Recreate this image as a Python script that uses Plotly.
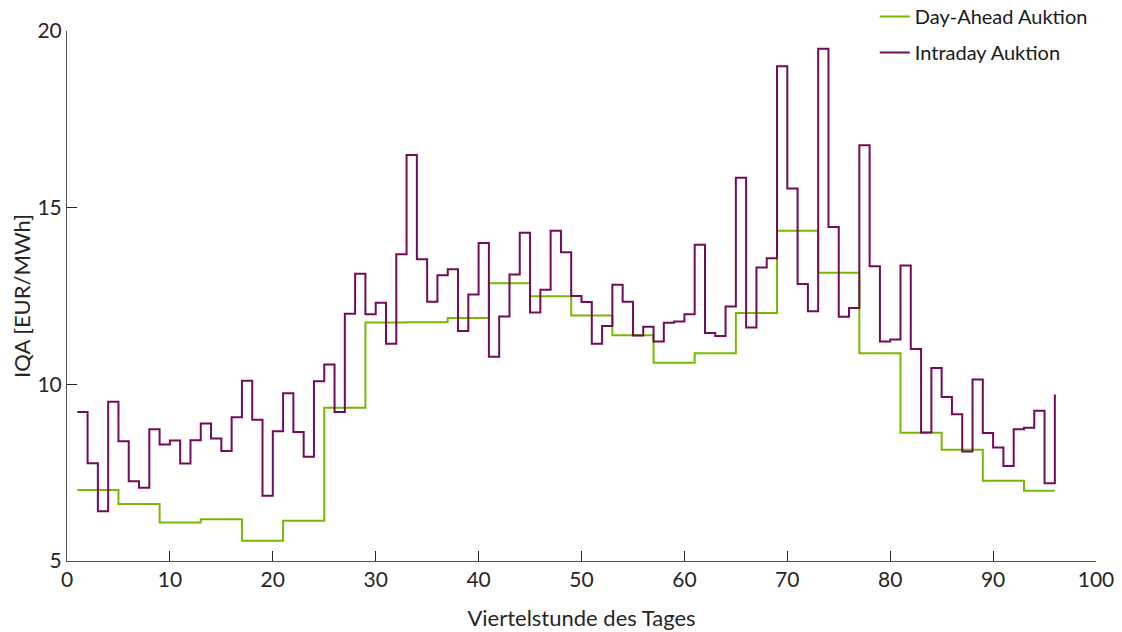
import plotly.graph_objects as go

quarters = list(range(1, 97))

intraday = [
    9.22, 7.77, 6.41, 9.51, 8.39, 7.26, 7.07, 8.73, 8.30, 8.41,
    7.76, 8.42, 8.89, 8.47, 8.11, 9.07, 10.10, 9.00, 6.85, 8.67,
    9.75, 8.65, 7.95, 10.09, 10.56, 9.22, 12.00, 13.13, 11.98, 12.31,
    11.15, 13.68, 16.49, 13.54, 12.34, 13.09, 13.26, 11.51, 12.54, 14.00,
    10.78, 11.92, 13.11, 14.29, 12.03, 12.68, 14.35, 13.74, 12.50, 12.33,
    11.15, 11.65, 12.82, 12.34, 11.38, 11.63, 11.21, 11.74, 11.78, 11.98,
    13.95, 11.45, 11.37, 12.20, 15.85, 11.61, 13.31, 13.57, 19.00, 15.54,
    12.84, 12.07, 19.50, 14.45, 11.91, 12.16, 16.77, 13.34, 11.21, 11.27,
    13.36, 11.00, 8.64, 10.46, 9.64, 9.15, 8.10, 10.14, 8.62, 8.21,
    7.69, 8.73, 8.77, 9.25, 7.20, 9.71,
]

day_ahead_hourly = [
    7.01, 6.61, 6.09, 6.18, 5.57, 6.14, 9.34, 11.75, 11.76, 11.88,
    12.86, 12.49, 11.95, 11.39, 10.61, 10.88, 12.02, 14.35, 13.16, 10.88,
    8.63, 8.15, 7.27, 6.99,
]
day_ahead = [v for v in day_ahead_hourly for _ in range(4)]

x_ticks = [0, 10, 20, 30, 40, 50, 60, 70, 80, 90, 100]
y_ticks = [5, 10, 15, 20]

GREEN = "#77B900"
PURPLE = "#720B58"
FONT = "Lato"

fig = go.Figure()
fig.add_trace(go.Scatter(
    x=quarters, y=day_ahead, mode="lines", line_shape="hv",
    line=dict(color=GREEN, width=2), name="Day-Ahead Auktion", legendgroup="a",
))
fig.add_trace(go.Scatter(
    x=quarters, y=intraday, mode="lines", line_shape="hv",
    line=dict(color=PURPLE, width=2), name="Intraday Auktion", legendgroup="b",
))

fig.update_layout(
    width=1122, height=632,
    margin=dict(l=67, r=26, t=31, b=71, autoexpand=False),
    plot_bgcolor="white", paper_bgcolor="white",
    font=dict(family=FONT, size=21, color="#262626"),
    showlegend=True,
    legend=dict(
        x=0.785, xanchor="left", y=1.064, yanchor="top",
        bgcolor="rgba(0,0,0,0)", font=dict(size=20, color="#1a1a1a"),
        tracegroupgap=7, itemwidth=30,
    ),
    xaxis=dict(
        range=[0, 100], tickvals=x_ticks, ticks="inside", ticklen=10,
        tickcolor="#262626", showline=True, linecolor="#4d4d4d", linewidth=1,
        showgrid=False, zeroline=False, mirror=False, automargin=False,
        title=dict(text="Viertelstunde des Tages", font=dict(size=22), standoff=20),
        tickfont=dict(size=21),
    ),
    yaxis=dict(
        range=[5, 20], tickvals=y_ticks, ticks="inside", ticklen=10,
        tickcolor="#262626", showline=True, linecolor="#4d4d4d", linewidth=1,
        showgrid=False, zeroline=False, mirror=False, automargin=False,
        title=dict(text="IQA [EUR/MWh]", font=dict(size=22), standoff=0),
        tickfont=dict(size=21),
    ),
)

fig.write_html("out.html", config={"displayModeBar": False},
               post_script="document.body.style.margin='0';")
